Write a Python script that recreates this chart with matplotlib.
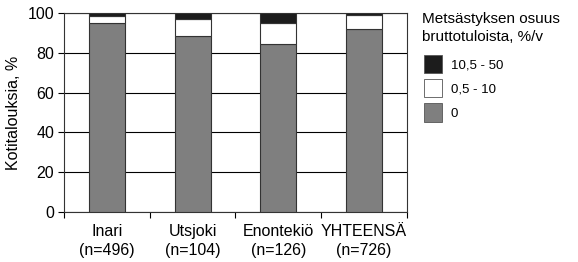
"""Kotitalouksien jakauma metsästyksen osuuden mukaan bruttotuloista."""

import matplotlib

matplotlib.use("Agg")
import matplotlib.pyplot as plt  # noqa: E402
import numpy as np  # noqa: E402
from matplotlib.patches import Patch  # noqa: E402

plt.rcParams["font.family"] = ["Liberation Sans", "DejaVu Sans"]

categories = ["Inari\n(n=496)", "Utsjoki\n(n=104)", "Enontekiö\n(n=126)", "YHTEENSÄ\n(n=726)"]
share_0 = [94.8, 88.7, 84.3, 92.0]
share_05_10 = [3.8, 8.4, 10.9, 6.8]
share_105_50 = [1.4, 2.9, 4.8, 1.2]
legend_title = "Metsästyksen osuus\nbruttotuloista, %/v"
legend_labels = ["10,5 - 50", "0,5 - 10", "0"]
colors = ["#1c1c1c", "#ffffff", "#7f7f7f"]


def main() -> None:
    fig = plt.figure(figsize=(5.78, 2.62), dpi=100)
    ax = fig.add_axes([0.1107, 0.191, 0.593, 0.759])

    x = np.arange(len(categories))
    w = 0.42
    edge = "#333333"
    ax.bar(x, share_0, w, color=colors[2], edgecolor=edge, linewidth=0.8, zorder=3)
    ax.bar(x, share_05_10, w, bottom=share_0, color=colors[1], edgecolor=edge,
           linewidth=0.8, zorder=3)
    bottom2 = np.array(share_0) + np.array(share_05_10)
    ax.bar(x, share_105_50, w, bottom=bottom2, color=colors[0], edgecolor=edge,
           linewidth=0.8, zorder=3)

    ax.set_xlim(-0.5, len(categories) - 0.5)
    ax.set_ylim(0, 100)
    ax.set_yticks([0, 20, 40, 60, 80, 100])
    ax.yaxis.grid(True, color="black", linewidth=0.8, zorder=1)
    ax.set_axisbelow(True)

    ax.set_xticks(x)
    ax.set_xticklabels(categories, fontsize=11.5, linespacing=1.3)
    ax.tick_params(axis="x", which="major", length=0, pad=9)
    ax.set_xticks(np.arange(-0.5, len(categories)), minor=True)
    ax.tick_params(axis="x", which="minor", length=4, width=0.8, direction="out")
    ax.tick_params(axis="y", length=4, width=0.8, labelsize=11.5, pad=3)
    ax.set_ylabel("Kotitalouksia, %", fontsize=11.5, labelpad=5)

    for s in ax.spines.values():
        s.set_color("#333333")
        s.set_linewidth(0.8)

    fig.text(0.730, 0.955, legend_title, fontsize=11, va="top", ha="left",
             linespacing=1.35)
    handles = [Patch(facecolor=c, edgecolor="#555555", linewidth=0.6) for c in colors]
    fig.legend(handles, legend_labels, loc="upper left",
               bbox_to_anchor=(0.733, 0.79), fontsize=9.5, frameon=False,
               handlelength=1.4, handleheight=1.75, handletextpad=0.65,
               labelspacing=0.45, borderaxespad=0, borderpad=0)

    fig.savefig("out.png", dpi=100)


if __name__ == "__main__":
    main()
